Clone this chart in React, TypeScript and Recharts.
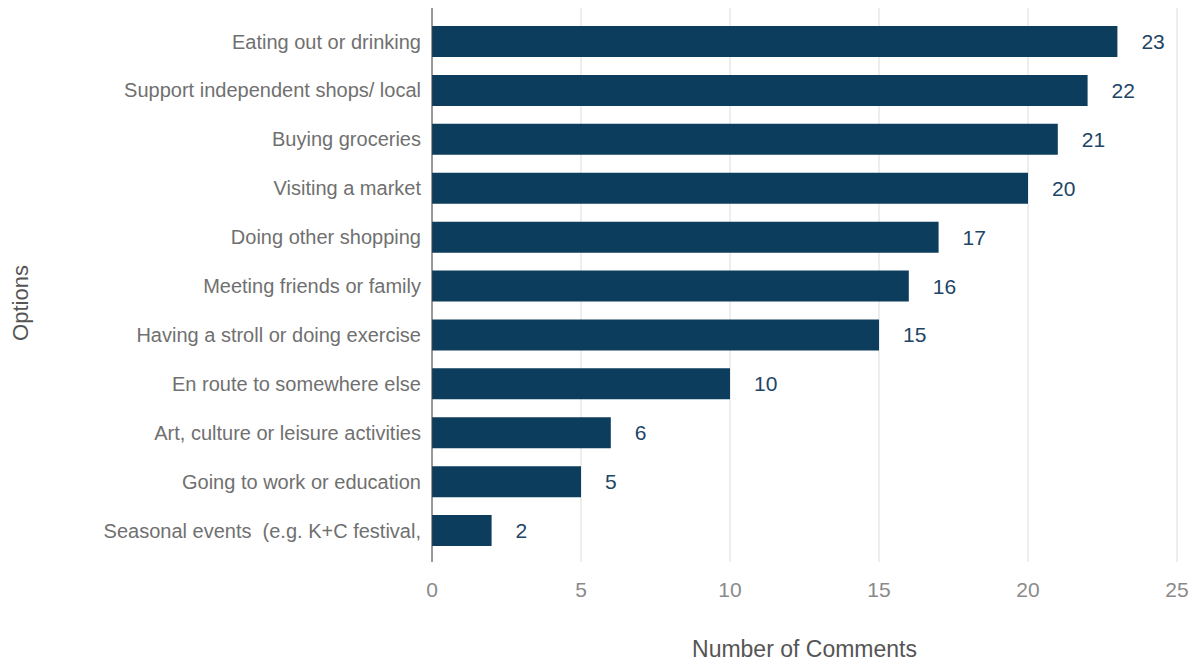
import { BarChart, Bar, XAxis, YAxis, CartesianGrid, LabelList } from 'recharts';

const options = [
  'Eating out or drinking',
  'Support independent shops/ local',
  'Buying groceries',
  'Visiting a market',
  'Doing other shopping',
  'Meeting friends or family',
  'Having a stroll or doing exercise',
  'En route to somewhere else',
  'Art, culture or leisure activities',
  'Going to work or education',
  'Seasonal events \u00a0(e.g. K+C festival,',
];
const comments = [23, 22, 21, 20, 17, 16, 15, 10, 6, 5, 2];
const xTicks = [0, 5, 10, 15, 20, 25];

const data = options.map((name, i) => ({ name, value: comments[i] }));

const font = '"Liberation Sans", Arial, sans-serif';

// rotated y-axis title, sits a bit below the plot's middle like the original
const OptionsLabel = (props: any) => {
  const vb = props.viewBox || {};
  const cx = 20;
  const cy = vb.y + vb.height / 2 + 18;
  return (
    <text
      x={cx}
      y={cy}
      transform={`rotate(-90, ${cx}, ${cy})`}
      textAnchor="middle"
      dominantBaseline="central"
      fill="#555"
      fontSize={22}
      fontFamily={font}
    >
      Options
    </text>
  );
};

export default function App() {
  return (
    <div style={{ position: 'absolute', left: 0, top: 0, fontFamily: font }}>
      <BarChart
        width={1204}
        height={663}
        data={data}
        layout="vertical"
        margin={{ top: 8, right: 27, left: 0, bottom: 0 }}
      >
        <CartesianGrid horizontal={false} stroke="#dcdcdc" />
        <XAxis
          type="number"
          domain={[0, 25]}
          ticks={xTicks}
          height={101}
          axisLine={false}
          tickLine={false}
          tickMargin={14}
          tick={{ fill: '#8a8a8a', fontSize: 21, fontFamily: font }}
          label={{
            value: 'Number of Comments',
            position: 'insideBottom',
            offset: 6,
            fill: '#555',
            fontSize: 23,
            fontFamily: font,
          }}
        />
        <YAxis
          type="category"
          dataKey="name"
          width={432}
          padding={{ top: 9, bottom: 7 }}
          axisLine={{ stroke: '#444' }}
          tickLine={false}
          tickMargin={5}
          interval={0}
          tick={{ fill: '#707070', fontSize: 20, fontFamily: font }}
          label={<OptionsLabel />}
        />
        <Bar dataKey="value" fill="#0c3d5c" barSize={31} isAnimationActive={false}>
          <LabelList
            dataKey="value"
            position="right"
            offset={24}
            fill="#1d4566"
            fontSize={21}
            fontFamily={font}
          />
        </Bar>
      </BarChart>
    </div>
  );
}
